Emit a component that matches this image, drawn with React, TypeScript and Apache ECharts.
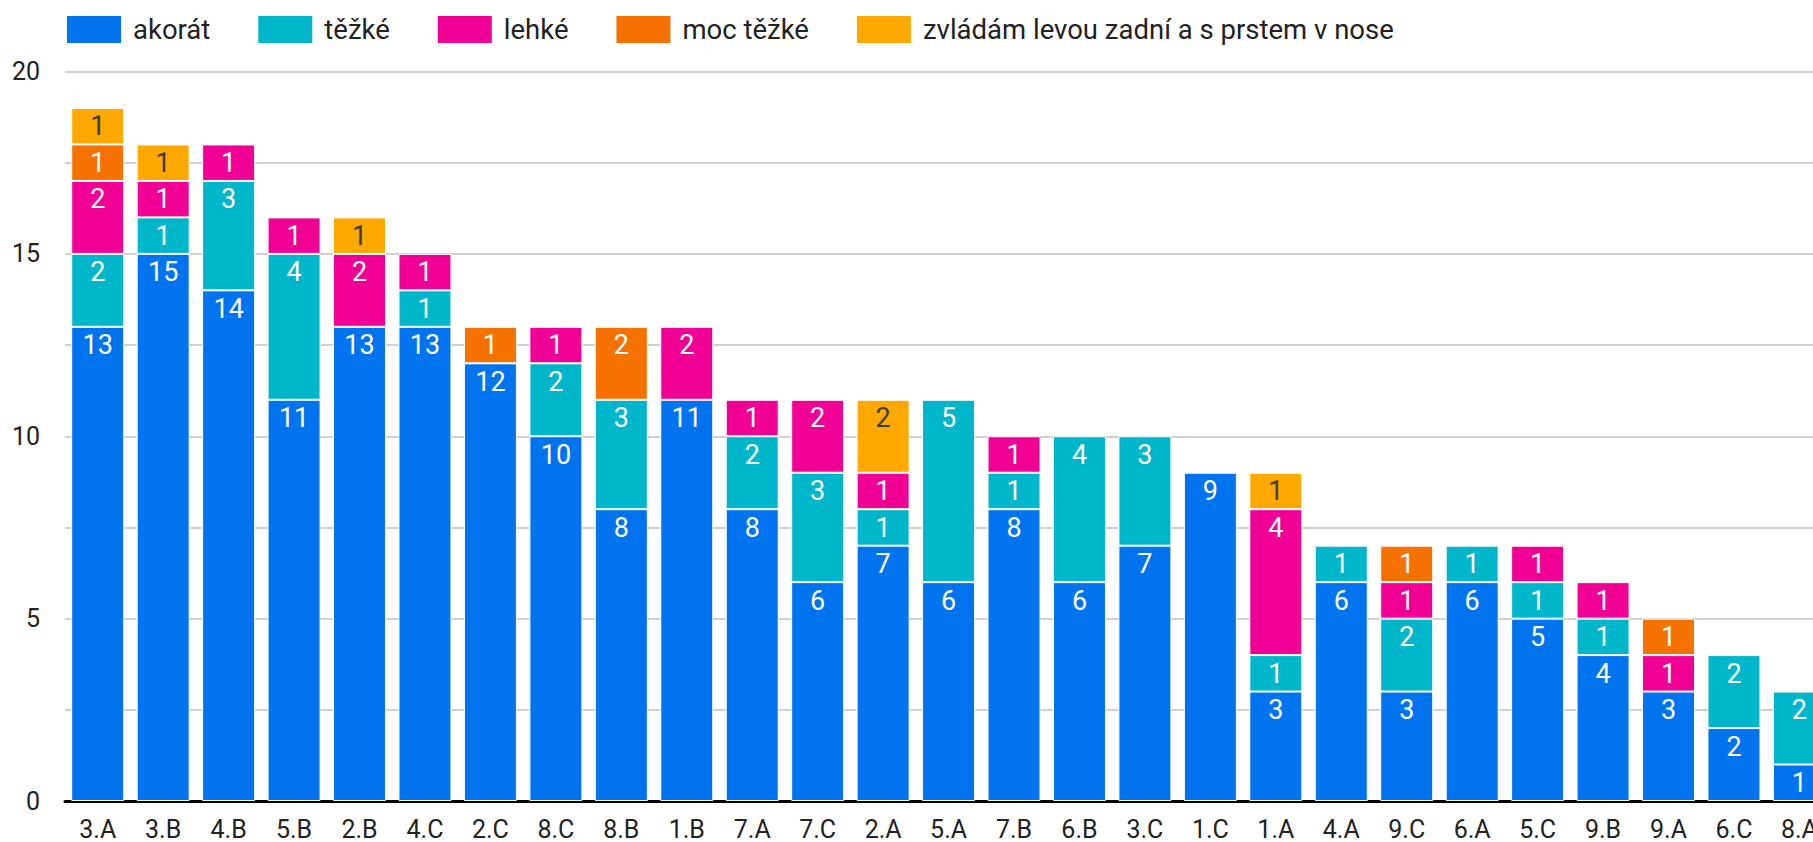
import React, { useEffect, useRef } from "react";
import * as echarts from "echarts";

const categories = [
  "3.A", "3.B", "4.B", "5.B", "2.B", "4.C", "2.C", "8.C", "8.B", "1.B",
  "7.A", "7.C", "2.A", "5.A", "7.B", "6.B", "3.C", "1.C", "1.A", "4.A",
  "9.C", "6.A", "5.C", "9.B", "9.A", "6.C", "8.A",
];

const akorat = [13, 15, 14, 11, 13, 13, 12, 10, 8, 11, 8, 6, 7, 6, 8, 6, 7, 9, 3, 6, 3, 6, 5, 4, 3, 2, 1];
const tezke = [2, 1, 3, 4, 0, 1, 0, 2, 3, 0, 2, 3, 1, 5, 1, 4, 3, 0, 1, 1, 2, 1, 1, 1, 0, 2, 2];
const lehke = [2, 1, 1, 1, 2, 1, 0, 1, 0, 2, 1, 2, 1, 0, 1, 0, 0, 0, 4, 0, 1, 0, 1, 1, 1, 0, 0];
const mocTezke = [1, 0, 0, 0, 0, 0, 1, 0, 2, 0, 0, 0, 0, 0, 0, 0, 0, 0, 0, 0, 1, 0, 0, 0, 1, 0, 0];
const zvladam = [1, 1, 0, 0, 1, 0, 0, 0, 0, 0, 0, 0, 2, 0, 0, 0, 0, 0, 1, 0, 0, 0, 0, 0, 0, 0, 0];

const seriesNames = ["akorát", "těžké", "lehké", "moc těžké", "zvládám levou zadní a s prstem v nose"];
const seriesValues = [akorat, tezke, lehke, mocTezke, zvladam];
const seriesColors = ["#0073EE", "#00B6CB", "#F10096", "#F57100", "#FFA800"];
const labelColors = ["#ffffff", "#ffffff", "#ffffff", "#ffffff", "#3b3b3b"];

const yTicks = [0, 5, 10, 15, 20];

const FONT = "Roboto, 'Noto Sans', sans-serif";

export default function App() {
  const ref = useRef<HTMLDivElement>(null);

  useEffect(() => {
    if (!ref.current) return;
    const chart = echarts.init(ref.current, undefined, { renderer: "svg" });
    const catWidth = 65.45;
    chart.setOption({
      animation: false,
      backgroundColor: "#ffffff",
      textStyle: { fontFamily: FONT },
      legend: {
        left: 65,
        top: 14,
        padding: 0,
        icon: "rect",
        itemWidth: 56,
        itemHeight: 29,
        itemGap: 46,
        textStyle: { fontSize: 27.5, color: "#222222", fontFamily: FONT, padding: [0, 0, 0, 6] },
        data: seriesNames,
      },
      grid: {
        left: 65,
        top: 71.5,
        width: catWidth * categories.length,
        height: 733,
        containLabel: false,
      },
      xAxis: {
        type: "category",
        data: categories,
        axisLine: { show: true, lineStyle: { color: "#000000", width: 3 } },
        axisTick: { show: false },
        axisLabel: { fontSize: 25, color: "#222222", margin: 16, fontFamily: FONT, interval: 0 },
      },
      yAxis: {
        type: "value",
        min: 0,
        max: 20,
        interval: 2.5,
        axisLine: { show: false },
        axisTick: { show: false },
        axisLabel: {
          fontSize: 25,
          color: "#222222",
          margin: 25,
          fontFamily: FONT,
          formatter: (v: number) => (yTicks.includes(v) ? String(v) : ""),
        },
        splitLine: { show: true, lineStyle: { color: "#d0d0d0", width: 2 } },
      },
      series: seriesNames.map((name, i) => ({
        name,
        type: "bar",
        stack: "total",
        barWidth: 53,
        data: seriesValues[i].map((v) => (v > 0 ? v : null)),
        itemStyle: { color: seriesColors[i], borderColor: "#ffffff", borderWidth: 1 },
        label: {
          show: true,
          position: "insideTop",
          distance: 5,
          fontSize: 27,
          color: labelColors[i],
          fontFamily: FONT,
          formatter: (p: any) => (p.value ? String(p.value) : ""),
        },
      })),
    });
    return () => chart.dispose();
  }, []);

  return (
    <div
      style={{
        position: "fixed",
        left: 0,
        top: 0,
        width: 1813,
        height: 842,
        overflow: "hidden",
        background: "#ffffff",
      }}
    >
      <div ref={ref} style={{ width: 1950, height: 842 }} />
    </div>
  );
}
